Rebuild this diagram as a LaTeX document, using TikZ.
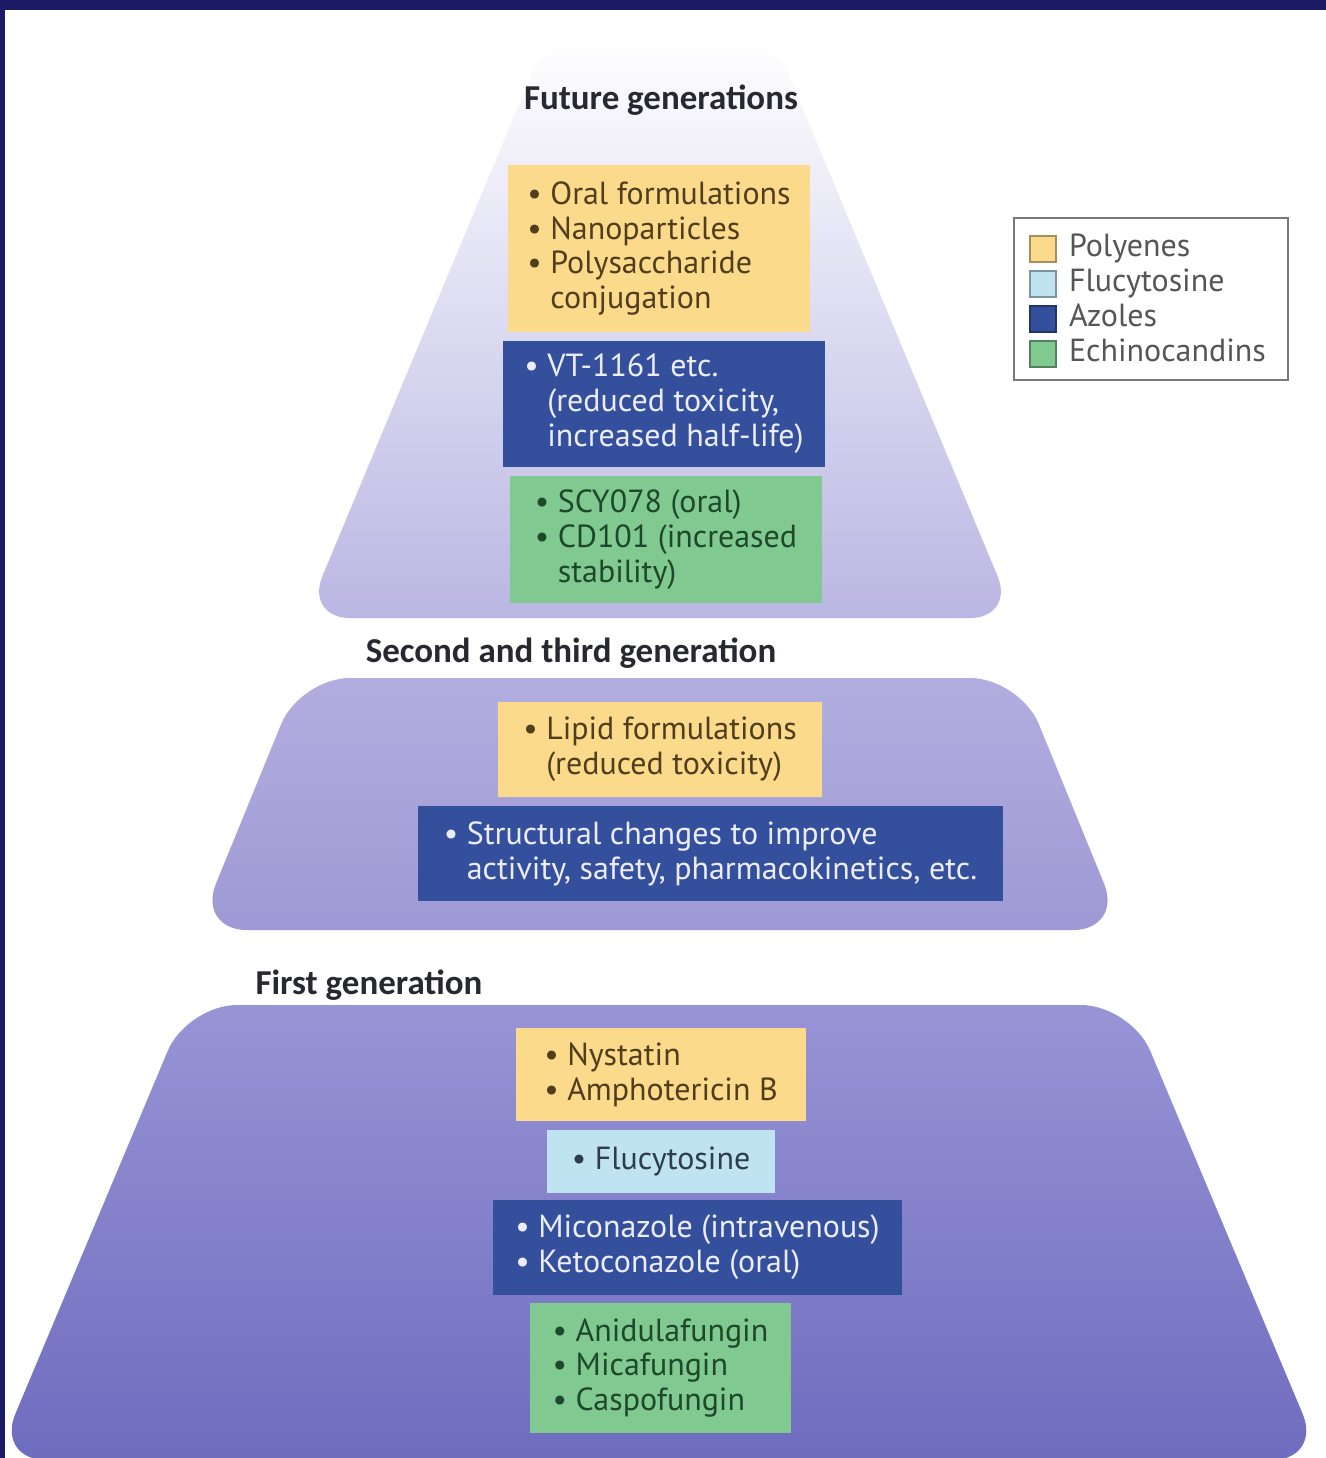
\documentclass[tikz,border=0pt]{standalone}
\usepackage{fontspec}
\setmainfont{PT Sans}
\newfontfamily\headfont{Carlito}
\usepackage{xcolor}
\usepackage{tikz}
\usetikzlibrary{positioning}

\definecolor{framec}{RGB}{28,26,100}
\definecolor{polyc}{RGB}{252,218,140}
\definecolor{fluc}{RGB}{192,227,242}
\definecolor{azoc}{RGB}{52,80,157}
\definecolor{echc}{RGB}{128,201,145}
\definecolor{polytext}{RGB}{80,62,28}
\definecolor{flutext}{RGB}{45,60,80}
\definecolor{azotext}{RGB}{236,236,250}
\definecolor{echtext}{RGB}{30,72,42}
\definecolor{headc}{RGB}{40,40,48}
\definecolor{legc}{RGB}{120,120,125}
\definecolor{legtextc}{RGB}{85,85,90}
\definecolor{tierAmid}{RGB}{218,215,240}
\definecolor{tierAbot}{RGB}{186,182,227}
\definecolor{tierBtop}{RGB}{178,174,224}
\definecolor{tierBbot}{RGB}{158,153,212}
\definecolor{tierCtop}{RGB}{152,148,214}
\definecolor{tierCbot}{RGB}{110,108,190}

\newcommand{\bul}{\textbullet\ }
\newcommand{\ind}{\phantom{\textbullet\ }}

\begin{document}
\begin{tikzpicture}[x=0.02cm, y=-0.02cm]
		\tikzstyle{drug} = [inner sep=0pt, align=left, font=\fontsize{18.2}{19.9}\selectfont]
		\tikzstyle{polybox} = [drug, fill=polyc, text=polytext]
		\tikzstyle{flubox} = [drug, fill=fluc, text=flutext]
		\tikzstyle{azobox} = [drug, fill=azoc, text=azotext]
		\tikzstyle{echbox} = [drug, fill=echc, text=echtext]
		\tikzstyle{head} = [inner sep=0pt, text=headc, font=\headfont\bfseries\fontsize{19.9}{22}\selectfont]
		\tikzstyle{swatch} = [minimum size=0.52cm, inner sep=0pt, line width=0.8pt]
		\tikzstyle{legtext} = [inner sep=0pt, text height=0.81em, text depth=0pt, text=legtextc, font=\fontsize{18.2}{19.9}\selectfont]

		\useasboundingbox (0,0) rectangle (1326,1458);
		\fill[white] (0,0) rectangle (1326,1458);

		% the three tiers
		\shade[top color=white, middle color=tierAmid, bottom color=tierAbot, rounded corners=0.9cm]
		(660,35) -- (772,35) -- (1015,618) -- (305,618) -- (548,35) -- cycle;
		\shade[top color=tierBtop, bottom color=tierBbot, rounded corners=1cm]
		(660,678) -- (1020,678) -- (1123,930) -- (197,930) -- (300,678) -- cycle;
		\shade[top color=tierCtop, bottom color=tierCbot, rounded corners=1cm]
		(659,1005) -- (1131,1005) -- (1322,1460) -- (-4,1460) -- (187,1005) -- cycle;

		\node[head] (future) at (661,100) {Future generations};
		\node[head] (second) at (571,653) {Second and third generation};
		\node[head] (first) at (369,985) {First generation};

		% future generations
		\node[polybox, minimum width=6.04cm, minimum height=3.34cm] (fpoly) at (659,248.5)
		{\bul Oral formulations\\ \bul Nanoparticles\\ \bul Polysaccharide\\ \ind conjugation};
		\node[azobox, minimum width=6.44cm, minimum height=2.52cm] (fazo) at (664,404)
		{\bul VT-1161 etc.\\ \ind (reduced toxicity,\\ \ind increased half-life)};
		\node[echbox, minimum width=6.24cm, minimum height=2.54cm] (fech) at (666,539.5)
		{\bul SCY078 (oral)\\ \bul CD101 (increased\\ \ind stability)};

		% second and third generation
		\node[polybox, minimum width=6.48cm, minimum height=1.9cm] (spoly) at (660,749.5)
		{\bul Lipid formulations\\ \ind (reduced toxicity)};
		\node[azobox, minimum width=11.7cm, minimum height=1.9cm] (sazo) at (710.5,853.5)
		{\bul Structural changes to improve\\ \ind activity, safety, pharmacokinetics, etc.};

		% first generation
		\node[polybox, minimum width=5.8cm, minimum height=1.86cm] (npoly) at (661,1074.5)
		{\bul Nystatin\\ \bul Amphotericin B};
		\node[flubox, minimum width=4.56cm, minimum height=1.26cm] (nflu) at (661,1161.5)
		{\bul Flucytosine};
		\node[azobox, minimum width=8.18cm, minimum height=1.9cm] (nazo) at (697.5,1247.5)
		{\bul Miconazole (intravenous)\\ \bul Ketoconazole (oral)};
		\node[echbox, minimum width=5.22cm, minimum height=2.6cm] (nech) at (660.5,1368)
		{\bul Anidulafungin\\ \bul Micafungin\\ \bul Caspofungin};

		% legend
		\node[draw=legc, line width=0.9pt, fill=white, minimum width=5.48cm, minimum height=3.24cm] (legend) at (1151,299) {};
		\foreach \c/\t [count=\i] in {polyc/Polyenes, fluc/Flucytosine, azoc/Azoles, echc/Echinocandins}{
			\node[swatch, fill=\c, draw=\c!65!black] (sw\i) at (1043,214+35*\i) {};
			\node[legtext, right=0.24cm of sw\i] (lab\i) {\t};
		}

		\fill[framec] (0,0) rectangle (1326,10);
		\fill[framec] (0,0) rectangle (5,1458);
	\end{tikzpicture}
\end{document}
